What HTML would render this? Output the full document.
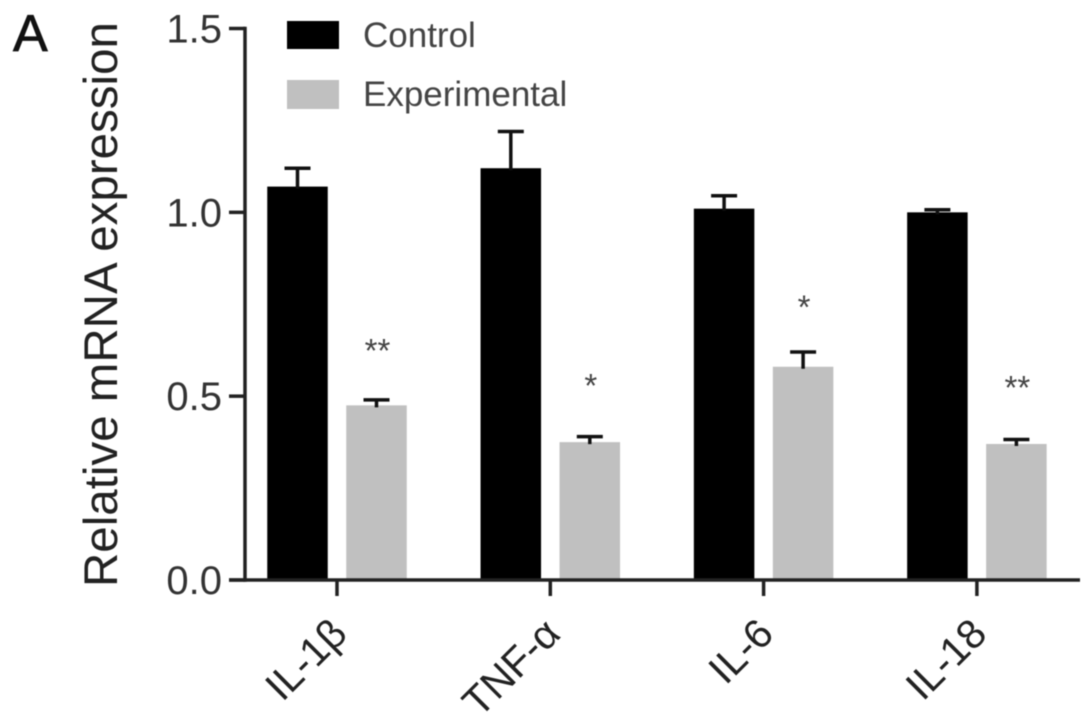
<!DOCTYPE html>
<html lang="en">
<head>
<meta charset="utf-8">
<title>Relative mRNA expression</title>
<style>
html,body{margin:0;padding:0;background:#fff;width:1087px;height:725px;overflow:hidden}
svg{display:block;font-family:"Liberation Sans",sans-serif;filter:blur(0.6px)}
</style>
</head>
<body>
<svg id="chart" width="1087" height="725" viewBox="0 0 1087 725" xmlns="http://www.w3.org/2000/svg">
  <rect x="0" y="0" width="1087" height="725" fill="#fff"/>
  <text x="13" y="51" font-size="52" fill="#111" stroke="#111" stroke-width="0.8">A</text>
  <text transform="translate(117,587) rotate(-90)" font-size="47.5" fill="#222">Relative mRNA expression</text>
  <rect x="287" y="21" width="52" height="28" fill="#000"/>
  <text x="363" y="47" font-size="35" fill="#444">Control</text>
  <rect x="287" y="80" width="52" height="29" fill="#c0c0c0"/>
  <text x="363" y="106" font-size="35" fill="#444">Experimental</text>
</svg>
<script>
const categories = ['IL-1β', 'TNF-α', 'IL-6', 'IL-18'];
const controlValues = [1.07, 1.12, 1.01, 1.0];
const controlErrorTops = [1.12, 1.22, 1.045, 1.007];
const experimentalValues = [0.475, 0.375, 0.58, 0.37];
const experimentalErrorTops = [0.49, 0.39, 0.62, 0.382];
const significance = ['**', '*', '*', '**'];
const significanceLevels = [0.663, 0.568, 0.782, 0.563];
const yTicks = [0, 0.5, 1.0, 1.5];
const yTickLabels = ['0.0', '0.5', '1.0', '1.5'];

const svg = document.getElementById('chart');
const NS = 'http://www.w3.org/2000/svg';
const yScale = v => 580 - (v / 1.5) * 551.5;
const groupCenter = i => 337 + i * 213.3;
const barWidth = 60.5;
const barOffset = 39.5;

function make(tag, attrs) {
  const el = document.createElementNS(NS, tag);
  for (const k in attrs) el.setAttribute(k, attrs[k]);
  svg.appendChild(el);
  return el;
}

function drawBar(cx, value, errorTop, color) {
  const top = yScale(value);
  const errTop = yScale(errorTop);
  const bar = make('rect', {x: cx - barWidth / 2, y: top, width: barWidth, height: 580 - top, fill: color});
  
  
  const stem = make('line', {x1: cx, x2: cx, y1: errTop, y2: top + 2, stroke: '#111', 'stroke-width': 3.5});
  
  
  const cap = make('line', {x1: cx - 13, x2: cx + 13, y1: errTop, y2: errTop, stroke: '#111', 'stroke-width': 3.5});
  
  
}

categories.forEach((name, i) => {
  const c = groupCenter(i);
  drawBar(c - barOffset, controlValues[i], controlErrorTops[i], '#000');
  drawBar(c + barOffset, experimentalValues[i], experimentalErrorTops[i], '#c0c0c0');

  const star = make('text', {x: c + barOffset + 1, y: yScale(significanceLevels[i]) + 26, 'font-size': 33, 'text-anchor': 'middle', fill: '#444'});
  star.textContent = significance[i];
  
  

  const tick = make('line', {x1: c, x2: c, y1: 580, y2: 596, stroke: '#222', 'stroke-width': 3.5});
  
  

  const label = make('text', {transform: 'translate(' + (c + 12) + ',636) rotate(-45)', 'font-size': 41, 'text-anchor': 'end', fill: '#222'});
  label.textContent = name;
  
  
});

yTicks.forEach((v, i) => {
  const y = yScale(v);
  const tick = make('line', {x1: 229, x2: 245, y1: y, y2: y, stroke: '#222', 'stroke-width': 3.5});
  
  
  const label = make('text', {x: 222, y: y + 14, 'font-size': 40, 'text-anchor': 'end', fill: '#333'});
  label.textContent = yTickLabels[i];
  
  
});

const yAxis = make('line', {x1: 245, x2: 245, y1: yScale(1.5) - 1.7, y2: 581.7, stroke: '#222', 'stroke-width': 3.5});



const xAxis = make('line', {x1: 229, x2: 1080, y1: 580, y2: 580, stroke: '#222', 'stroke-width': 3.5});


</script>
</body>
</html>
